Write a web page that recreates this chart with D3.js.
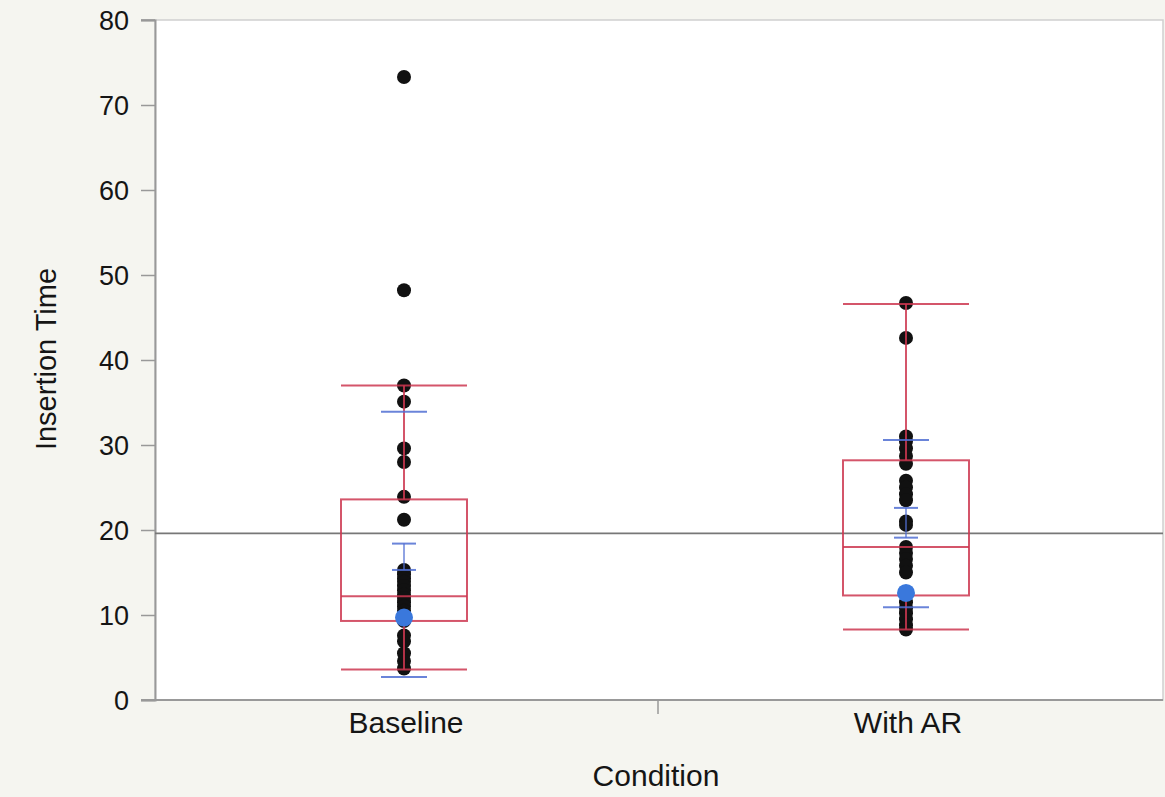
<!DOCTYPE html>
<html>
<head>
<meta charset="utf-8">
<script src="https://cdn.jsdelivr.net/npm/d3@7"></script>
<style>
  body { margin: 0; background: #f5f5f0; }
  svg { display: block; }
  text { font-family: "Liberation Sans", Arial, sans-serif; fill: #151515; }
</style>
</head>
<body>
<div id="main"></div>
<script>
var width = 1165, height = 797;
var margin = {left: 155, right: 2, top: 20, bottom: 97};

var categories = ["Baseline", "With AR"];
var yTicks = [0, 10, 20, 30, 40, 50, 60, 70, 80];

// raw points per condition
var baselinePts = [73.3, 48.2, 37.0, 35.1, 29.6, 28.0, 23.9, 21.2, 15.3, 14.8, 14.3, 13.9, 13.4,
                   12.9, 12.4, 12.0, 11.5, 11.0, 10.5, 10.1, 9.3, 7.6, 6.9, 5.5, 4.6, 3.7];
var withArPts = [46.7, 42.6, 31.0, 30.4, 29.6, 28.7, 27.8, 25.8, 25.0, 24.2, 23.5, 21.0, 20.6,
                 18.0, 17.3, 16.6, 15.8, 15.0, 11.5, 10.8, 10.2, 9.5, 8.8, 8.3];
var highlighted = [9.7, 12.6];

// box stats: [lowWhisker, q1, median, q3, highWhisker]
var boxStats = [[3.6, 9.3, 12.2, 23.6, 37.0], [8.3, 12.3, 18.0, 28.2, 46.6]];
// blue lines: std dev lines (outer) and mean error bars (inner)
var sdLines = [[2.7, 33.9], [10.9, 30.6]];
var errBars = [[15.3, 18.4], [19.1, 22.6]];
var grandMean = 19.6;

var pts = [baselinePts, withArPts];

var svg = d3.select("#main").append("svg")
    .attr("width", width).attr("height", height);

var x0 = margin.left, x1 = width - margin.right;
var yb = height - margin.bottom, yt = margin.top;

var y = d3.scaleLinear().domain([0, 80]).range([yb, yt]);
var x = d3.scaleBand().domain(categories).range([x0, x1 - 4]).padding(0);

svg.append("rect").attr("x", x0).attr("y", yt).attr("width", x1 - x0).attr("height", yb - yt)
    .attr("fill", "#fff").attr("stroke", "#cfcfcf").attr("stroke-width", 1.5);

// axes
var yAxis = svg.append("g").attr("transform", "translate(" + x0 + ",0)")
    .call(d3.axisLeft(y).tickValues(yTicks).tickSize(14).tickPadding(12));
yAxis.selectAll("text").style("font-size", "27px").attr("dy", "0.36em");

var xAxis = svg.append("g").attr("transform", "translate(0," + yb + ")")
    .call(d3.axisBottom(x).tickSize(0).tickPadding(12));
xAxis.selectAll("text").style("font-size", "30px").attr("dy", "0.71em");
xAxis.append("line").attr("x1", (x0 + x1) / 2 - 1).attr("x2", (x0 + x1) / 2 - 1)
    .attr("y1", 0).attr("y2", 14).attr("stroke", "#999").attr("stroke-width", 1.5);

[yAxis, xAxis].forEach(function(g) {
  g.select(".domain").attr("stroke", "#999").attr("stroke-width", 2);
  g.selectAll(".tick line").attr("stroke", "#999").attr("stroke-width", 1.5);
});
xAxis.select(".domain").attr("d", "M" + (x0 - 14) + ",0H" + x1);

svg.append("line").attr("x1", x0 - 14).attr("x2", x0).attr("y1", yt).attr("y2", yt)
    .attr("stroke", "#999").attr("stroke-width", 1.5);

svg.append("text").attr("x", 656).attr("y", 786).attr("text-anchor", "middle")
    .style("font-size", "30px").text("Condition");
svg.append("text").attr("transform", "translate(56,359) rotate(-90)").attr("text-anchor", "middle")
    .style("font-size", "29px").text("Insertion Time");

// grand mean
svg.append("line").attr("x1", x0).attr("x2", x1).attr("y1", y(grandMean)).attr("y2", y(grandMean))
    .attr("stroke", "#777").attr("stroke-width", 1.8);

var cx = function(i) { return x(categories[i]) + x.bandwidth() / 2 - 2; };

// points
pts.forEach(function(arr, i) {
  svg.append("g").selectAll("circle").data(arr).enter().append("circle")
      .attr("cx", cx(i)).attr("cy", function(d) { return y(d); })
      .attr("r", 7).attr("fill", "#111");
});

// boxes
var red = "rgba(205, 55, 80, 0.85)";
boxStats.forEach(function(s, i) {
  var c = cx(i), hw = 63;
  var g = svg.append("g").attr("stroke", red).attr("stroke-width", 2).attr("fill", "none");
  g.append("rect").attr("x", c - hw).attr("y", y(s[3])).attr("width", hw * 2).attr("height", y(s[1]) - y(s[3]));
  g.append("line").attr("x1", c - hw).attr("x2", c + hw).attr("y1", y(s[2])).attr("y2", y(s[2]));
  g.append("line").attr("x1", c).attr("x2", c).attr("y1", y(s[4])).attr("y2", y(s[3]));
  g.append("line").attr("x1", c).attr("x2", c).attr("y1", y(s[1])).attr("y2", y(s[0]));
  [s[0], s[4]].forEach(function(v) {
    g.append("line").attr("x1", c - hw).attr("x2", c + hw).attr("y1", y(v)).attr("y2", y(v));
  });
});

// blue sd lines + error bars
var blue = "rgba(80, 110, 210, 0.85)";
categories.forEach(function(cat, i) {
  var c = cx(i);
  var g = svg.append("g").attr("stroke", blue).attr("stroke-width", 2);
  sdLines[i].forEach(function(v) {
    g.append("line").attr("x1", c - 23).attr("x2", c + 23).attr("y1", y(v)).attr("y2", y(v));
  });
  errBars[i].forEach(function(v) {
    g.append("line").attr("x1", c - 12).attr("x2", c + 12).attr("y1", y(v)).attr("y2", y(v));
  });
  g.append("line").attr("x1", c).attr("x2", c).attr("y1", y(errBars[i][0])).attr("y2", y(errBars[i][1]))
      .attr("stroke-width", 1.5);
});

// highlighted points
svg.append("g").selectAll("circle").data(highlighted).enter().append("circle")
    .attr("cx", function(d, i) { return cx(i); }).attr("cy", function(d) { return y(d); })
    .attr("r", 9).attr("fill", "#3a78dc");
</script>
</body>
</html>
